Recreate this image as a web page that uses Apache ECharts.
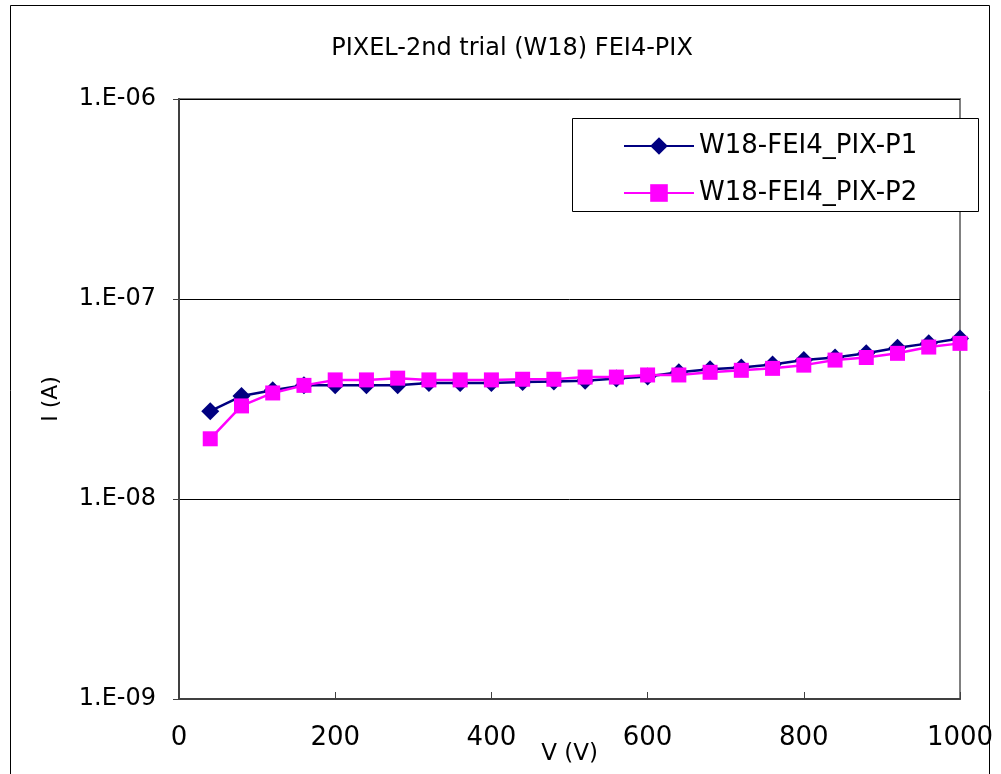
<!DOCTYPE html>
<html>
<head>
<meta charset="utf-8">
<script src="https://cdn.jsdelivr.net/npm/echarts@6/dist/echarts.min.js"></script>
<style>
  html, body { margin: 0; padding: 0; background: #fff; }
  #chart { width: 1001px; height: 774px; }
</style>
</head>
<body>
<div id="chart"></div>
<script>
// Bias voltage steps (V)
const voltages = [40, 80, 120, 160, 200, 240, 280, 320, 360, 400, 440, 480, 520,
                  560, 600, 640, 680, 720, 760, 800, 840, 880, 920, 960, 1000];
// Leakage current (A), pixel P1
const currentP1 = [2.75e-8, 3.27e-8, 3.5e-8, 3.7e-8, 3.7e-8, 3.7e-8, 3.7e-8, 3.8e-8, 3.8e-8,
                   3.8e-8, 3.85e-8, 3.87e-8, 3.9e-8, 4.0e-8, 4.1e-8, 4.3e-8, 4.45e-8, 4.55e-8,
                   4.7e-8, 4.95e-8, 5.1e-8, 5.35e-8, 5.7e-8, 6.0e-8, 6.35e-8];
// Leakage current (A), pixel P2
const currentP2 = [2.0e-8, 2.92e-8, 3.39e-8, 3.7e-8, 3.94e-8, 3.94e-8, 4.02e-8, 3.94e-8, 3.94e-8,
                   3.94e-8, 3.97e-8, 3.97e-8, 4.07e-8, 4.07e-8, 4.17e-8, 4.17e-8, 4.3e-8, 4.4e-8,
                   4.5e-8, 4.67e-8, 4.95e-8, 5.1e-8, 5.35e-8, 5.75e-8, 6.0e-8];
const seriesNames = ['W18-FEI4_PIX-P1', 'W18-FEI4_PIX-P2'];
const titleText = 'PIXEL-2nd trial (W18) FEI4-PIX';

const FONT = '"DejaVu Sans", "Noto Sans", sans-serif';

function pairs(xs, ys) { return xs.map((x, i) => [x, ys[i]]); }
function expLabel(v) {
  const e = Math.round(Math.log10(v));
  const a = Math.abs(e);
  return '1.E' + (e < 0 ? '-' : '+') + (a < 10 ? '0' + a : a);
}

const chart = echarts.init(document.getElementById('chart'), null, { renderer: 'canvas' });

chart.setOption({
  backgroundColor: '#ffffff',
  animation: false,
  title: {
    text: titleText,
    left: 507, top: 32, textAlign: 'center',
    textStyle: { fontFamily: FONT, fontSize: 24, fontWeight: 'normal', color: '#000' }
  },
  graphic: [
    { type: 'rect', shape: { x: 10.5, y: 5.5, width: 979, height: 800 },
      style: { fill: 'none', stroke: '#000', lineWidth: 1 }, silent: true, z: -1 },
    { type: 'rect', shape: { x: 572.5, y: 118.5, width: 406, height: 93 },
      style: { fill: '#fff', stroke: '#000', lineWidth: 1 }, silent: true, z: 10 }
  ],
  legend: {
    orient: 'vertical',
    left: 618, top: 128,
    itemWidth: 70, itemHeight: 22, itemGap: 21,
    z: 20,
    textStyle: { fontFamily: FONT, fontSize: 26, color: '#000', lineHeight: 26, padding: [0, 0, 0, 0] },
    data: seriesNames
  },
  grid: { left: 179, right: 41, top: 99, bottom: 75, show: true,
          outerBoundsMode: 'none', containLabel: false,
          borderColor: '#808080', borderWidth: 2 },
  xAxis: {
    type: 'value', min: 0, max: 1000, interval: 200,
    name: 'V (V)', nameLocation: 'middle', nameGap: 44, nameMoveOverlap: false,
    nameTextStyle: { fontFamily: FONT, fontSize: 23, color: '#000' },
    axisLine: { show: true, lineStyle: { color: '#404040', width: 2 } },
    axisTick: { show: true, inside: true, length: 7, lineStyle: { color: '#404040', width: 1 } },
    axisLabel: { fontFamily: FONT, fontSize: 26, color: '#000', margin: 26,
                 formatter: (v) => String(v) },
    splitLine: { show: false }
  },
  yAxis: {
    type: 'log', logBase: 10, min: 1e-9, max: 1e-6,
    name: 'I (A)', nameLocation: 'middle', nameGap: 117, nameRotate: 90, nameMoveOverlap: false,
    nameTextStyle: { fontFamily: FONT, fontSize: 22, color: '#000' },
    axisLine: { show: true, lineStyle: { color: '#404040', width: 2 } },
    axisTick: { show: true, length: 6, lineStyle: { color: '#404040', width: 1 } },
    minorTick: { show: false },
    axisLabel: { fontFamily: FONT, fontSize: 24, color: '#000', margin: 23,
                 formatter: expLabel },
    splitLine: { show: true, lineStyle: { color: '#000', width: 1 } }
  },
  series: [
    {
      name: seriesNames[0], type: 'line', data: pairs(voltages, currentP1),
      symbol: 'diamond', symbolSize: 18,
      lineStyle: { color: '#000080', width: 2.5 },
      itemStyle: { color: '#000080' },
      z: 2
    },
    {
      name: seriesNames[1], type: 'line', data: pairs(voltages, currentP2),
      symbol: 'rect', symbolSize: 15,
      lineStyle: { color: '#ff00ff', width: 2.5 },
      itemStyle: { color: '#ff00ff' },
      z: 3
    }
  ]
});
</script>
</body>
</html>
